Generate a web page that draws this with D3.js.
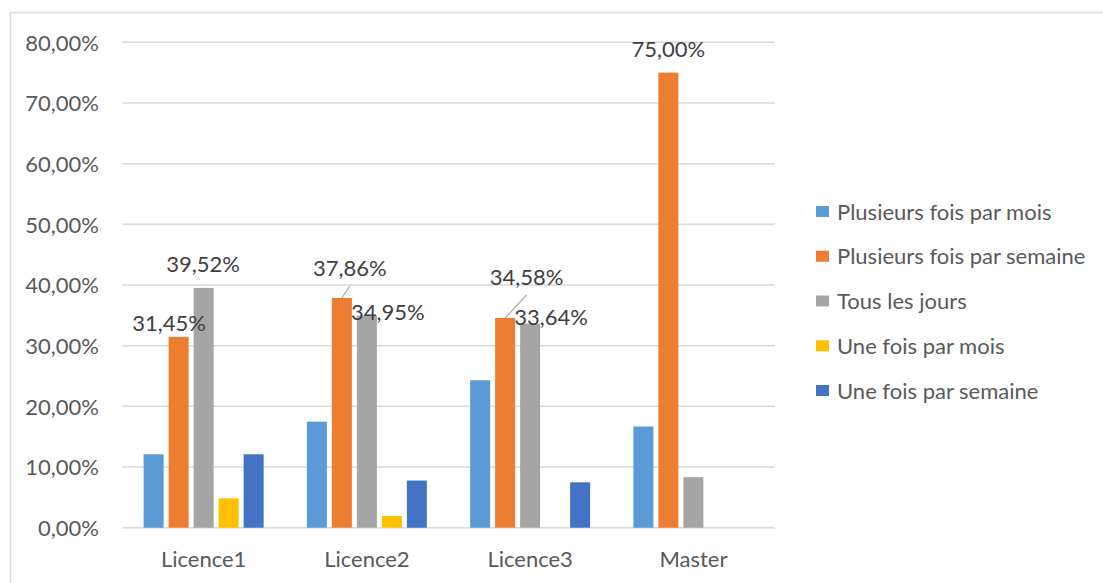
<!DOCTYPE html>
<html>
<head>
<meta charset="utf-8">
<script src="https://cdn.jsdelivr.net/npm/d3@7"></script>
<style>
  html, body { margin: 0; padding: 0; background: #fff; }
  svg { display: block; font-family: Lato, "Open Sans", sans-serif; }
</style>
</head>
<body>
<svg id="chart" width="1103" height="583"></svg>
<script>
const categories = ["Licence1", "Licence2", "Licence3", "Master"];
const seriesNames = ["Plusieurs fois par mois", "Plusieurs fois par semaine", "Tous les jours", "Une fois par mois", "Une fois par semaine"];
const colors = ["#5B9BD5", "#ED7D31", "#A5A5A5", "#FFC000", "#4472C4"];
const plusieursMois   = [12.10, 17.48, 24.30, 16.67];
const plusieursSemaine = [31.45, 37.86, 34.58, 75.00];
const tousLesJours    = [39.52, 34.95, 33.64, 8.33];
const uneFoisMois     = [4.84, 1.94, 0, 0];
const uneFoisSemaine  = [12.10, 7.77, 7.48, 0];
const yTicks = [0, 10, 20, 30, 40, 50, 60, 70, 80];
// data labels shown: [seriesIndex, categoryIndex, dx, dy, leader]
const labelled = [
  [1, 0, -9.5, -6, false],
  [2, 0, -0.5, -16, false],
  [1, 1, 8, -22, true],
  [2, 1, 21, 4.5, false],
  [1, 2, 21.5, -33, true],
  [2, 2, 21, 1.5, false],
  [1, 3, 0, -15.5, false]
];

const seriesValues = [plusieursMois, plusieursSemaine, tousLesJours, uneFoisMois, uneFoisSemaine];
const svg = d3.select("#chart");
const fmt = v => v.toFixed(2).replace(".", ",") + "%";
const FS = 22;

// outer border
svg.append("rect").attr("x", 10.5).attr("y", 12.5).attr("width", 1200).attr("height", 700)
  .attr("fill", "none").attr("stroke", "#d9d9d9").attr("stroke-width", 1.5);

const plot = { left: 122, right: 775, top: 42.3, bottom: 527.7 };
const y = d3.scaleLinear().domain([0, 80]).range([plot.bottom, plot.top]);
const x0 = d3.scaleBand().domain(categories).range([plot.left, plot.right]).padding(0);
const x1 = d3.scaleBand().domain(seriesNames).range([-60, 60]).paddingInner(0.2).paddingOuter(0);

// gridlines
svg.append("g").selectAll("line").data(yTicks).join("line")
  .attr("x1", plot.left).attr("x2", plot.right)
  .attr("y1", d => y(d)).attr("y2", d => y(d))
  .attr("stroke", "#d9d9d9").attr("stroke-width", 1.5);

// y axis labels
const yAxis = d3.axisLeft(y).tickValues(yTicks).tickSize(0).tickPadding(0).tickFormat(d => fmt(d));
const gy = svg.append("g").attr("transform", "translate(99,0)").call(yAxis);
gy.select(".domain").remove();
gy.selectAll("text").attr("fill", "#595959").attr("font-size", FS).attr("font-family", "Lato, sans-serif").attr("dy", "0.35em");

// x axis labels
const xAxis = d3.axisBottom(x0).tickSize(0).tickPadding(0);
const gx = svg.append("g").attr("transform", "translate(0,567)").call(xAxis);
gx.select(".domain").remove();
gx.selectAll("text").attr("fill", "#595959").attr("font-size", FS).attr("font-family", "Lato, sans-serif").attr("dy", 0);

// bars
seriesValues.forEach((vals, si) => {
  svg.append("g").selectAll("rect").data(vals.map((v, ci) => ({ v, c: categories[ci] })))
    .join("rect")
    .filter(d => d.v > 0)
    .attr("x", d => x0(d.c) + x0.bandwidth() / 2 + x1(seriesNames[si]))
    .attr("width", x1.bandwidth())
    .attr("y", d => y(d.v))
    .attr("height", d => y(0) - y(d.v))
    .attr("fill", colors[si]);
});

// data labels
const lg = svg.append("g");
labelled.forEach(([si, ci, dx, dy, leader]) => {
  const v = seriesValues[si][ci];
  const cx = x0(categories[ci]) + x0.bandwidth() / 2 + x1(seriesNames[si]) + x1.bandwidth() / 2;
  const ty = y(v);
  if (leader) {
    lg.append("line").attr("x1", cx).attr("y1", ty).attr("x2", cx + dx).attr("y2", ty + dy + 10)
      .attr("stroke", "#a6a6a6").attr("stroke-width", 1.2);
  }
  lg.append("text").attr("x", cx + dx).attr("y", ty + dy)
    .attr("text-anchor", "middle").attr("fill", "#404040").attr("font-size", FS).text(fmt(v));
});

// legend
const leg = svg.append("g").attr("transform", "translate(816,0)");
const legY = d3.scalePoint().domain(seriesNames).range([212, 391]);
seriesNames.forEach((name, i) => {
  leg.append("rect").attr("x", 0).attr("y", legY(name) - 6).attr("width", 13).attr("height", 11).attr("fill", colors[i]);
  leg.append("text").attr("x", 21).attr("y", legY(name)).attr("dy", "0.35em")
    .attr("fill", "#595959").attr("font-size", FS).text(name);
});
</script>
</body>
</html>
